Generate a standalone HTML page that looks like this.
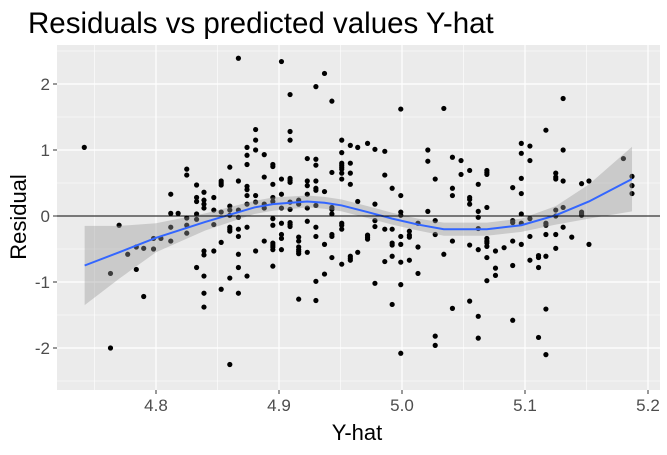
<!DOCTYPE html>
<html><head><meta charset="utf-8"><style>
body{margin:0;background:#fff}
svg text{font-family:"Liberation Sans",sans-serif}
</style></head><body>
<svg id="c" width="667" height="450" xmlns="http://www.w3.org/2000/svg">
<rect width="667" height="450" fill="#fff"/>
<text x="28" y="33" font-size="29.5" fill="#000">Residuals vs predicted values Y-hat</text>
<text x="357" y="440" font-size="22" text-anchor="middle" fill="#000">Y-hat</text>
<text transform="translate(26,217) rotate(-90)" font-size="22" text-anchor="middle" fill="#000">Residual</text>
<g id="plot"></g>
</svg>
<script>
const xTicks=[4.8,4.9,5.0,5.1,5.2];
const xTickLabels=["4.8","4.9","5.0","5.1","5.2"];
const yTicks=[-2,-1,0,1,2];
const yTickLabels=["-2","-1","0","1","2"];
const ptX=[4.7417,4.867,4.770,4.763,4.763,4.777,4.784,4.790,4.784,4.790,4.798,4.798,4.804,4.812,4.812,4.818,4.812,4.812,4.825,4.825,4.825,4.825,4.825,4.833,4.833,4.833,4.833,4.833,4.833,4.839,4.839,4.839,4.839,4.839,4.839,4.839,4.839,4.839,4.847,4.847,4.847,4.847,4.853,4.853,4.853,4.853,4.853,4.853,4.860,4.860,4.860,4.860,4.860,4.860,4.860,4.860,4.860,4.867,4.867,4.867,4.867,4.867,4.867,4.867,4.867,4.874,4.874,4.874,4.874,4.874,4.874,4.874,4.874,4.874,4.881,4.881,4.881,4.881,4.881,4.881,
4.888,4.888,4.888,4.888,4.888,
4.895,4.895,4.895,4.895,4.895,4.895,4.895,4.895,4.895,4.895,4.895,4.895,
4.902,4.902,4.902,4.902,4.902,4.902,4.902,4.902,
4.909,4.909,4.909,4.909,4.909,4.909,4.909,4.909,4.909,4.909,4.909,
4.916,4.916,4.916,4.916,4.916,4.916,4.916,4.916,4.916,
4.923,4.923,4.923,4.923,4.923,4.923,4.923,
4.930,4.930,4.930,4.930,4.930,4.930,4.930,4.930,4.930,4.930,4.930,
4.937,4.937,4.937,4.937,
4.943,4.943,4.943,4.943,4.943,4.943,4.943,4.943,
4.951,4.951,4.951,4.951,4.951,4.951,4.951,4.951,4.951,4.951,4.951,4.951,
4.958,4.958,4.958,4.958,4.958,4.958,4.958,
4.964,4.964,4.964,
4.972,4.972,4.972,4.972,
4.978,4.978,4.978,4.978,4.978,
4.986,4.986,4.986,4.986,
4.992,4.992,4.992,4.992,4.992,4.992,
4.999,4.999,4.999,4.999,4.999,4.999,4.999,4.999,4.999,
5.006,5.006,5.006,5.006,
5.013,5.013,5.013,
5.021,5.021,5.021,
5.027,5.027,5.027,5.027,5.027,
5.034,5.034,
5.041,5.041,5.041,5.041,5.041,
5.048,5.048,
5.055,5.055,5.055,5.055,5.055,5.055,
5.062,5.062,5.062,5.062,5.062,5.062,5.062,
5.069,5.069,5.069,5.069,5.069,5.069,5.069,5.069,5.069,5.069,
5.076,5.076,5.076,
5.083,
5.090,5.090,5.090,5.090,5.090,5.090,
5.097,5.097,5.097,5.097,5.097,5.097,5.097,
5.104,5.104,5.104,5.104,5.104,
5.111,5.111,5.111,5.111,
5.117,5.117,5.117,5.117,5.117,5.117,5.117,
5.125,5.125,5.125,5.125,5.125,5.125,5.125,
5.131,5.131,5.131,5.131,5.131,
5.138,
5.146,5.146,5.146,5.146,
5.152,5.152,
5.180,
5.187,5.187,5.187];
const ptY=[1.04,2.39,-0.14,-0.87,-2.00,-0.58,-0.47,-0.49,-0.81,-1.22,-0.34,-0.50,-0.34,0.33,0.04,0.04,-0.17,-0.38,0.71,0.62,-0.03,-0.14,-0.26,0.47,0.28,0.22,0.03,-0.05,-0.78,0.36,0.24,0.18,0.12,-0.53,-0.59,-0.91,-1.17,-1.38,0.28,0.09,-0.13,-0.53,0.53,0.50,0.47,0.06,-0.40,-1.11,0.74,0.15,0.09,0.01,-0.17,-0.20,-0.23,-0.94,-2.25,0.53,0.09,-0.02,-0.20,-0.31,-0.58,-0.78,-1.17,1.04,0.92,0.78,0.45,0.40,0.31,0.18,-0.17,-0.91,1.31,1.15,1.00,0.31,0.21,-0.53,
0.93,0.59,0.18,0.12,-0.38,
0.78,0.75,0.48,0.28,0.22,-0.04,-0.14,-0.41,-0.44,-0.47,-0.51,-0.76,
2.34,0.56,0.33,0.12,-0.11,-0.28,-0.34,-0.51,
1.84,1.28,1.15,0.57,0.54,0.51,0.21,0.10,-0.10,-0.13,-0.16,
0.24,0.18,-0.32,-0.38,-0.47,-0.51,-0.54,-0.57,-1.26,
0.87,0.53,0.46,0.33,0.12,-0.08,-0.55,
1.96,0.86,0.77,0.53,0.42,0.39,0.16,-0.17,-0.31,-0.99,-1.28,
2.16,0.37,-0.43,-0.88,
1.74,0.66,0.13,0.10,0.03,-0.28,-0.31,-0.63,
1.15,0.96,0.80,0.77,0.74,0.71,0.65,0.56,-0.11,-0.14,-0.20,-0.73,
1.07,0.80,0.65,0.48,-0.61,-0.64,-0.67,
1.04,0.22,-0.55,
1.10,-0.29,-0.32,-0.35,
1.01,0.18,-0.07,-0.16,-1.02,
0.98,0.62,-0.20,-0.69,
0.42,-0.20,-0.41,-0.44,-0.61,-1.34,
1.62,0.31,0.06,0.01,-0.31,-0.43,-0.70,-1.04,-2.08,
-0.23,-0.29,-0.32,-0.67,
-0.11,-0.47,-0.87,
1.00,0.83,0.07,
0.56,-0.07,-0.28,-1.82,-1.96,
1.63,-0.58,
0.89,0.42,0.31,-0.38,-1.40,
0.84,0.63,
0.69,0.28,0.25,0.18,-0.44,-1.29,
0.48,0.07,-0.02,-0.19,-0.51,-1.52,-1.85,
0.69,0.66,0.63,0.13,-0.34,-0.38,-0.41,-0.46,-0.63,-0.98,
-0.53,-0.79,-0.90,
-0.48,
0.43,-0.07,-0.10,-0.38,-0.75,-1.58,
1.10,0.95,0.57,0.34,0.03,-0.11,-0.43,
1.06,0.84,-0.04,-0.31,-0.67,
-0.60,-0.63,-0.78,-1.84,
1.30,-0.11,-0.14,-0.28,-0.61,-1.41,-2.10,
0.65,0.59,0.56,0.09,0.00,-0.28,-0.49,
1.78,1.00,0.53,0.13,-0.17,
-0.32,
0.49,0.06,0.03,0.01,
0.53,-0.43,
0.87,
0.60,0.46,0.34];
const smX=[4.742,4.77,4.80,4.84,4.88,4.895,4.923,4.937,4.951,4.972,4.992,5.013,5.034,5.069,5.097,5.125,5.152,5.187];
const smY=[-0.75,-0.55,-0.33,-0.09,0.13,0.18,0.22,0.20,0.16,0.06,-0.04,-0.13,-0.20,-0.20,-0.14,0.01,0.22,0.56];
const smSE=[0.60,0.40,0.22,0.13,0.10,0.10,0.09,0.09,0.09,0.09,0.09,0.09,0.10,0.10,0.10,0.14,0.26,0.49];

const L=57,R=660,T=45,B=390;
const sx=v=>156+(v-4.8)*1230;
const sy=v=>216-v*66;
const NS="http://www.w3.org/2000/svg";
const g=document.getElementById('plot');
function mk(t,a){const e=document.createElementNS(NS,t);for(const k in a)e.setAttribute(k,a[k]);g.appendChild(e);return e;}
let e=mk('rect',{x:L,y:T,width:R-L,height:B-T,fill:'#ebebeb'});


for(let i=0;i<xTicks.length;i++){const v=xTicks[i]-0.05;const x=sx(v);if(x>L&&x<R){e=mk('line',{x1:x,x2:x,y1:T,y2:B,stroke:'#fff','stroke-width':0.6});

}}
for(let i=0;i<=yTicks.length;i++){const v=(i<yTicks.length?yTicks[i]:3)-0.5;const y=sy(v);if(y>T&&y<B){e=mk('line',{x1:L,x2:R,y1:y,y2:y,stroke:'#fff','stroke-width':0.6});

}}
for(let i=0;i<xTicks.length;i++){const x=sx(xTicks[i]);
e=mk('line',{x1:x,x2:x,y1:T,y2:B,stroke:'#fff','stroke-width':1.2});


e=mk('line',{x1:x,x2:x,y1:B,y2:B+4,stroke:'#333','stroke-width':1});


e=mk('text',{x:x,y:B+21,'font-size':17,'text-anchor':'middle',fill:'#4d4d4d'});e.textContent=xTickLabels[i];

}
for(let i=0;i<yTicks.length;i++){const y=sy(yTicks[i]);
e=mk('line',{x1:L,x2:R,y1:y,y2:y,stroke:'#fff','stroke-width':1.2});


e=mk('line',{x1:L-4,x2:L,y1:y,y2:y,stroke:'#333','stroke-width':1});


e=mk('text',{x:L-7,y:y+6,'font-size':17,'text-anchor':'end',fill:'#4d4d4d'});e.textContent=yTickLabels[i];

}
for(let i=0;i<ptX.length;i++){e=mk('circle',{cx:sx(ptX[i]),cy:sy(ptY[i]),r:2.6,fill:'#000'});

}
let up=smX.map((x,i)=>sx(x)+','+sy(smY[i]+smSE[i]));
let lo=smX.map((x,i)=>sx(x)+','+sy(smY[i]-smSE[i])).reverse();
e=mk('polygon',{points:up.concat(lo).join(' '),fill:'#999','fill-opacity':0.4});


e=mk('polyline',{points:smX.map((x,i)=>sx(x)+','+sy(smY[i])).join(' '),fill:'none',stroke:'#3366ff','stroke-width':2});


e=mk('line',{x1:L,x2:R,y1:sy(0),y2:sy(0),stroke:'#000','stroke-width':1});


</script>
</body></html>
